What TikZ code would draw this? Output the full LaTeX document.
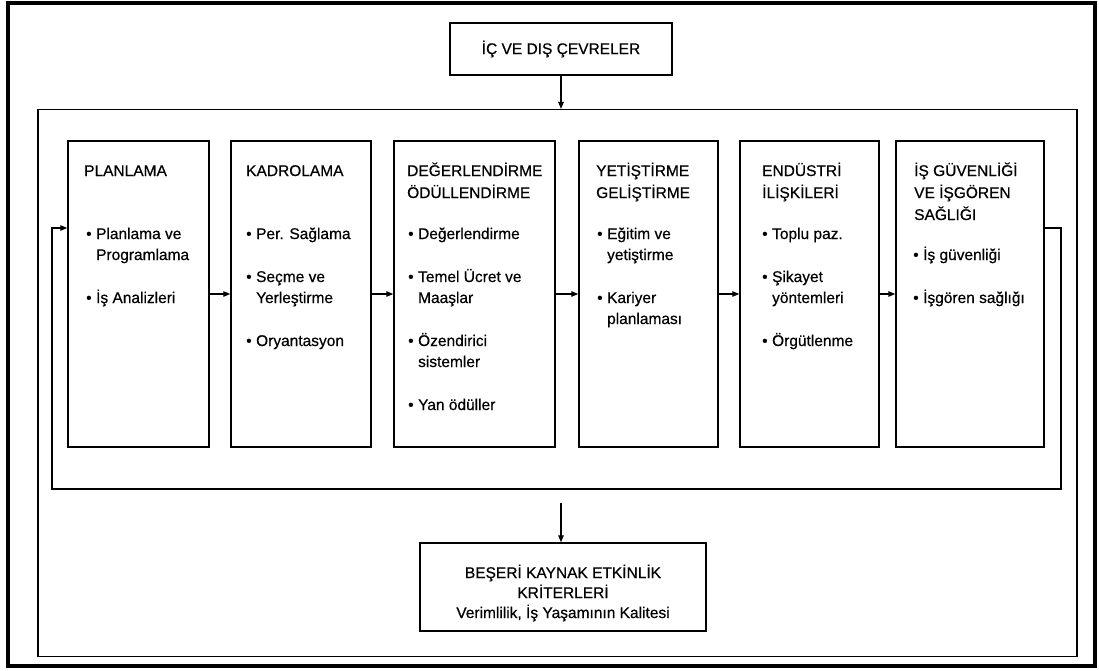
\documentclass[tikz,border=0pt]{standalone}
\usepackage{fontspec}
\setmainfont{Liberation Sans}[FakeBold=0.5]
\usetikzlibrary{arrows.meta}
\newcommand{\blt}{\textbullet}
\begin{document}
\begin{tikzpicture}[x=1pt,y=-1pt,
  box/.style={draw=black, line width=1.5pt, inner sep=0pt},
  frm/.style={draw=black, line width=1.2pt, inner sep=0pt},
  arr/.style={draw=black, line width=1.2pt, -{Triangle[length=7pt,width=5.5pt]}},
  txt/.style={inner sep=0pt, anchor=base west, font=\fontsize{15.5}{21}\selectfont},
  ctxt/.style={inner sep=0pt, anchor=base, font=\fontsize{15.5}{20}\selectfont}]
\useasboundingbox (0,0) rectangle (1099,670);
\fill[white] (0,0) rectangle (1099,670);
% outer thick frame
\node[draw=black, line width=3.2pt, inner sep=0pt, minimum width=1087pt, minimum height=663pt] (outer) at (551.5,334.5) {};
% big frame
\node[frm, minimum width=1039pt, minimum height=547pt] (frame) at (557.5,383) {};
% top box
\node[box, minimum width=222pt, minimum height=52pt, font=\fontsize{15.5}{20}\selectfont] (top) at (561,49) {İÇ VE DIŞ ÇEVRELER};
% six boxes
\node[box, minimum width=141pt, minimum height=306pt] (b1) at (138.5,294) {};
\node[box, minimum width=140pt, minimum height=306pt] (b2) at (301,294) {};
\node[box, minimum width=161pt, minimum height=306pt] (b3) at (474.5,294) {};
\node[box, minimum width=139pt, minimum height=306pt] (b4) at (648.5,294) {};
\node[box, minimum width=139pt, minimum height=306pt] (b5) at (809.5,294) {};
\node[box, minimum width=148pt, minimum height=306pt] (b6) at (970,294) {};
% bottom box
\node[box, minimum width=286pt, minimum height=88pt] (bot) at (563,587) {};
\node[ctxt] (bt) at (563,578) {\begin{tabular}[t]{@{}c@{}}BEŞERİ KAYNAK ETKİNLİK\\KRİTERLERİ\\Verimlilik, İş Yaşamının Kalitesi\end{tabular}};
% headings
\node[txt] (h1) at (84,176) {PLANLAMA};
\node[txt] (h2) at (246,176) {KADROLAMA};
\node[txt] (h3) at (407,176) {\begin{tabular}[t]{@{}l@{}}DEĞERLENDİRME\\[1pt]ÖDÜLLENDİRME\end{tabular}};
\node[txt] (h4) at (596,176) {\begin{tabular}[t]{@{}l@{}}YETİŞTİRME\\[1pt]GELİŞTİRME\end{tabular}};
\node[txt] (h5) at (762,176) {\begin{tabular}[t]{@{}l@{}}ENDÜSTRİ\\[1pt]İLİŞKİLERİ\end{tabular}};
\node[txt] (h6) at (914,176) {\begin{tabular}[t]{@{}l@{}}İŞ GÜVENLİĞİ\\[1pt]VE İŞGÖREN\\[1pt]SAĞLIĞI\end{tabular}};
% items
\node[txt] (i1) at (86,239) {\begin{tabular}[t]{@{}l@{\hspace{4.5pt}}l@{}}\blt & Planlama ve\\ & Programlama\\[22pt] \blt & İş Analizleri\end{tabular}};
\node[txt] (i2) at (246,239) {\begin{tabular}[t]{@{}l@{\hspace{4.5pt}}l@{}}\blt & Per. Sağlama\\[22pt] \blt & Seçme ve\\ & Yerleştirme\\[22pt] \blt & Oryantasyon\end{tabular}};
\node[txt] (i3) at (408,239) {\begin{tabular}[t]{@{}l@{\hspace{4.5pt}}l@{}}\blt & Değerlendirme\\[22pt] \blt & Temel Ücret ve\\ & Maaşlar\\[22pt] \blt & Özendirici\\ & sistemler\\[22pt] \blt & Yan ödüller\end{tabular}};
\node[txt] (i4) at (597,239) {\begin{tabular}[t]{@{}l@{\hspace{4.5pt}}l@{}}\blt & Eğitim ve\\ & yetiştirme\\[22pt] \blt & Kariyer\\ & planlaması\end{tabular}};
\node[txt] (i5) at (762,239) {\begin{tabular}[t]{@{}l@{\hspace{4.5pt}}l@{}}\blt & Toplu paz.\\[22pt] \blt & Şikayet\\ & yöntemleri\\[22pt] \blt & Örgütlenme\end{tabular}};
\node[txt] (i6) at (913,260) {\begin{tabular}[t]{@{}l@{\hspace{4.5pt}}l@{}}\blt & İş güvenliği\\[22pt] \blt & İşgören sağlığı\end{tabular}};
% connectors
\draw[arr] (top.south) -- (top.south |- frame.north);
\draw[arr] (b1) -- (b2);
\draw[arr] (b2) -- (b3);
\draw[arr] (b3) -- (b4);
\draw[arr] (b4) -- (b5);
\draw[arr] (b5) -- (b6);
\coordinate (f1) at (1061,228);
\coordinate (f2) at (1061,489);
\coordinate (f3) at (52,489);
\coordinate (f4) at (52,228);
\draw[arr] (b6.east |- f1) -- (f1) -- (f2) -- (f3) -- (f4) -- (b1.west |- f4);
\coordinate (s0) at (561,503);
\draw[arr] (s0) -- (s0 |- bot.north);
\end{tikzpicture}
\end{document}
